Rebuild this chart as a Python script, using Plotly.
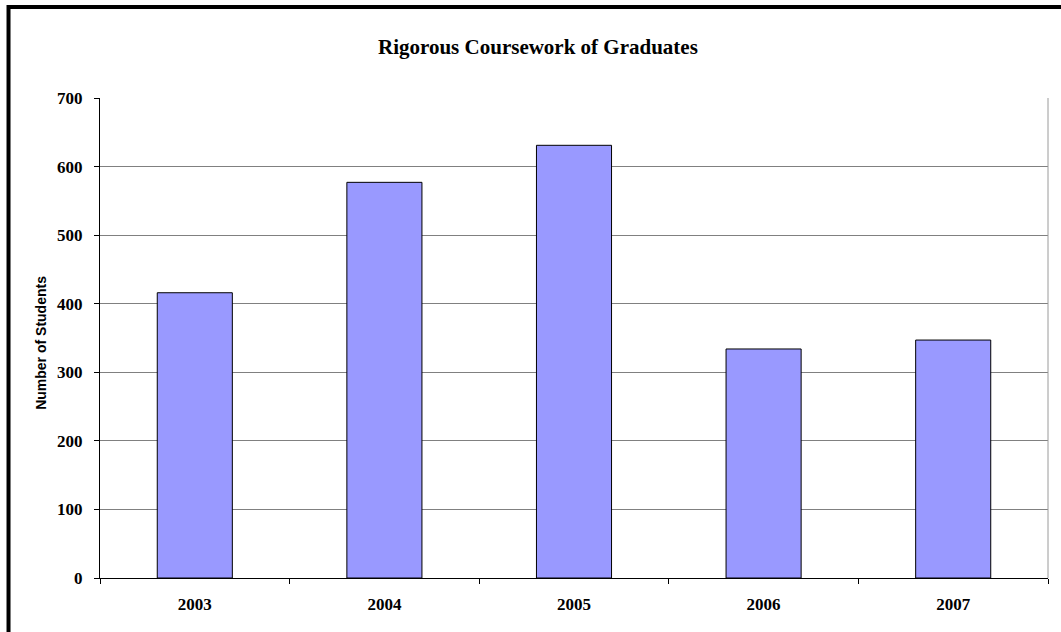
import plotly.graph_objects as go

years = ["2003", "2004", "2005", "2006", "2007"]
students = [416, 577, 631, 334, 347]
y_ticks = [0, 100, 200, 300, 400, 500, 600, 700]

title_text = "Rigorous Coursework of Graduates"
y_title = "Number of Students"

serif = "Liberation Serif, Times New Roman, serif"
sans = "Liberation Sans, Arial, sans-serif"

fig = go.Figure()
fig.add_trace(go.Bar(
    x=years, y=students,
    marker=dict(color="#9999FF", line=dict(color="#000000", width=1)),
    hoverinfo="x+y",
))

fig.update_layout(
    width=1061, height=632,
    margin=dict(l=100, r=13, t=98, b=54),
    paper_bgcolor="white", plot_bgcolor="white",
    bargap=0.604,
    showlegend=False,
    xaxis=dict(
        type="category",
        showline=True, linecolor="#000000", linewidth=1,
        ticks="outside", tickson="boundaries", ticklen=5, tickcolor="#000000",
        tickfont=dict(family=serif, size=17, color="#000000", weight="bold"),
        ticklabelstandoff=11,
        showgrid=False, zeroline=False,
    ),
    yaxis=dict(
        range=[0, 700], tickvals=y_ticks,
        showline=True, linecolor="#000000", linewidth=1,
        ticks="outside", ticklen=5, tickcolor="#000000",
        tickfont=dict(family=serif, size=17, color="#000000", weight="bold"),
        ticklabelstandoff=8,
        showgrid=True, gridcolor="#808080", gridwidth=1,
        zeroline=False,
    ),
    shapes=[
        # plot area right border
        dict(type="line", xref="paper", yref="paper", x0=1, x1=1, y0=0, y1=1,
             line=dict(color="#9a9a9a", width=1), layer="above"),
        # outer chart border
        dict(type="rect", xref="paper", yref="paper",
             x0=-0.0965, x1=1.05, y0=-0.3, y1=1.1896,
             line=dict(color="#000000", width=4)),
    ],
    annotations=[
        dict(text=title_text, xref="paper", yref="paper", x=0.462, y=1.106,
             showarrow=False, xanchor="center", yanchor="middle",
             font=dict(family=serif, size=21, color="#000000", weight="bold")),
        dict(text=y_title, xref="paper", yref="paper", x=-0.0622, y=0.49,
             showarrow=False, xanchor="center", yanchor="middle", textangle=-90,
             font=dict(family=sans, size=14, color="#000000", weight="bold")),
    ],
)

fig.write_html(
    "out.html",
    config={"displayModeBar": False},
    post_script="document.body.style.margin='0px';document.body.style.overflow='hidden';",
)
